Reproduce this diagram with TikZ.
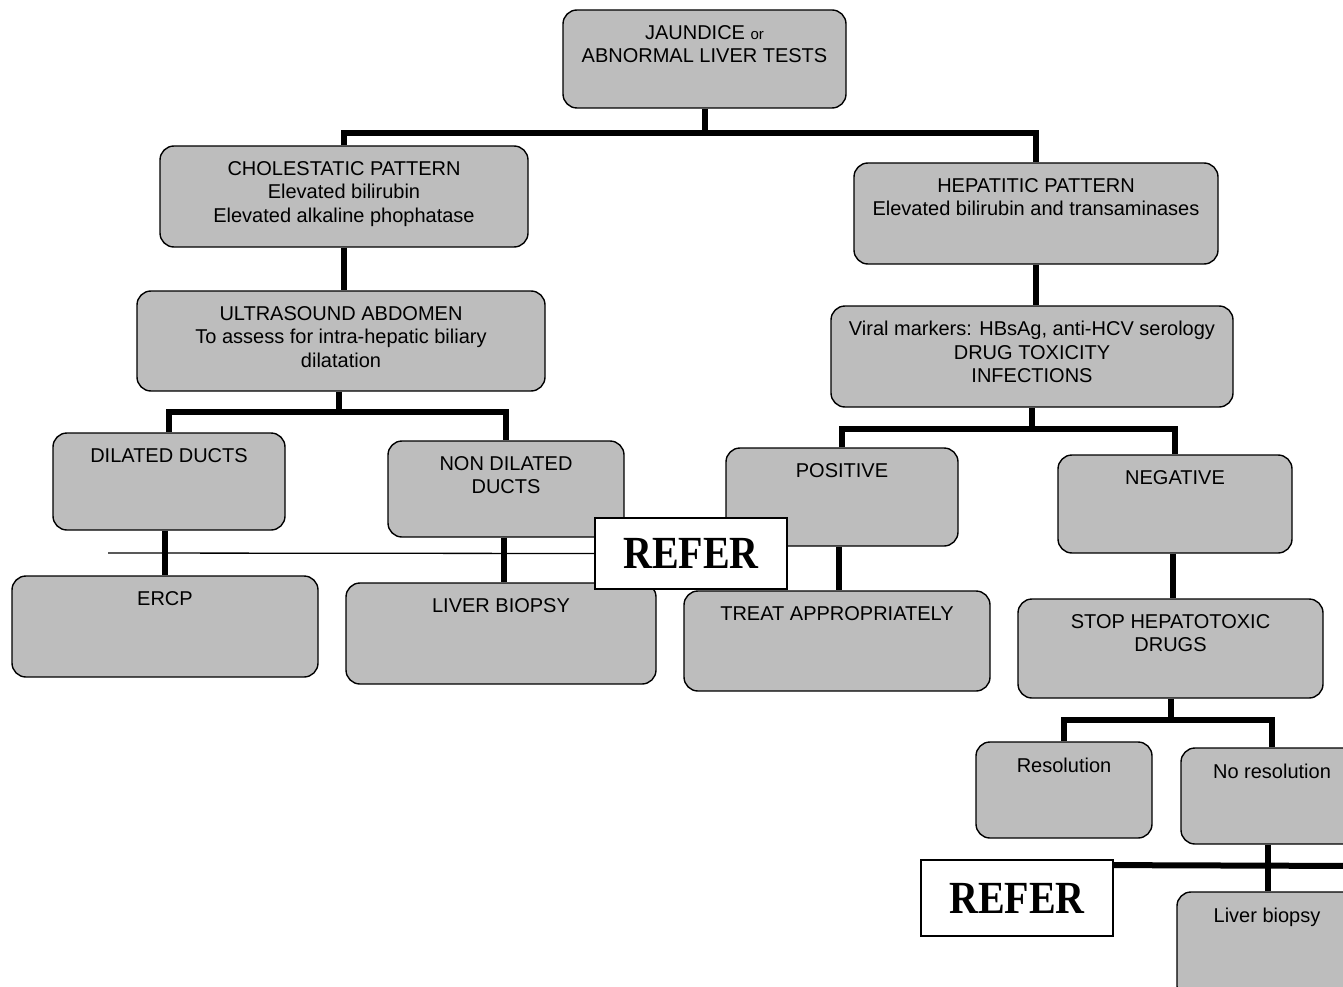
\documentclass[tikz,border=0pt]{standalone}
\usepackage{fontspec}
\setmainfont{Liberation Sans}
\newfontfamily\referfont{Liberation Serif}
\usetikzlibrary{fit}
\definecolor{dotfill}{gray}{0.74}
\tikzset{
  box/.style={draw=black, line width=1.4pt, fill=dotfill, rounded corners=14pt, inner sep=0pt},
  txt/.style={align=center, inner sep=0pt, font=\fontsize{20}{23.5}\selectfont, anchor=north},
  conn/.style={line width=6pt},
  thinline/.style={line width=1.3pt},
  referbox/.style={draw, line width=1.8pt, fill=white, inner sep=0pt,
    font=\referfont\bfseries\fontsize{40}{40}\selectfont},
}
% rounded, shaded box from its corners, with its text near the top
\newcommand\pbox[6]{%
  \coordinate (#1-nw) at (#2,#3);
  \coordinate (#1-se) at (#4,#5);
  \node[box, fit=(#1-nw)(#1-se)] (#1) {};
  \node[txt] (#1-t) at ([yshift=-16pt]#1.north) {#6};
}
\begin{document}
\begin{tikzpicture}[x=1pt, y=-1pt]
\useasboundingbox (0,0) rectangle (1343,987);
\clip (0,0) rectangle (1343,987);

% levels of the horizontal branch bars
\coordinate (bar1) at (0,133);
\coordinate (bar2) at (0,412);
\coordinate (bar3) at (0,429);
\coordinate (bar4) at (0,720);
\coordinate (tstart) at (108,553);
\coordinate (edge) at (1360,866);

% boxes
\pbox{top}{563}{10}{846}{108}{JAUNDICE {\fontsize{15}{15}\selectfont or}\\ABNORMAL LIVER TESTS}
\pbox{chol}{160}{146}{528}{247}{CHOLESTATIC PATTERN\\Elevated bilirubin\\Elevated alkaline phophatase}
\pbox{hep}{854}{163}{1218}{264}{HEPATITIC PATTERN\\Elevated bilirubin and transaminases}
\pbox{us}{137}{291}{545}{391}{ULTRASOUND ABDOMEN\\To assess for intra-hepatic biliary\\dilatation}
\pbox{viral}{831}{306}{1233}{407}{Viral markers: HBsAg, anti-HCV serology\\DRUG TOXICITY\\INFECTIONS}
\pbox{dil}{53}{433}{285}{530}{DILATED DUCTS}
\pbox{nondil}{388}{441}{624}{537}{NON DILATED\\DUCTS}
\pbox{pos}{726}{448}{958}{546}{POSITIVE}
\pbox{neg}{1058}{455}{1292}{553}{NEGATIVE}
\pbox{ercp}{12}{576}{318}{677}{ERCP}
\pbox{lb}{346}{583}{656}{684}{LIVER BIOPSY}
\pbox{treat}{684}{591}{990}{691}{TREAT APPROPRIATELY}
\pbox{stop}{1018}{599}{1323}{698}{STOP HEPATOTOXIC\\DRUGS}
\pbox{res}{976}{742}{1152}{838}{Resolution}
\pbox{nores}{1181}{748}{1363}{844}{No resolution}
\pbox{lb2}{1177}{892}{1357}{1000}{Liver biopsy}

% REFER boxes
\node[referbox, minimum width=192pt, minimum height=71pt] (refer1) at (691,553.5) {\scalebox{1}[1.15]{REFER}};
\node[referbox, minimum width=192pt, minimum height=76pt] (refer2) at (1017,898) {\scalebox{1}[1.15]{REFER}};

% connectors
\draw[conn] (top.south) -- (top.south |- bar1);
\draw[conn] (chol.north) |- (hep.north |- bar1) -- (hep.north);
\draw[conn] (chol.south) -- (us.north -| chol.south);
\draw[conn] (hep.south) -- (viral.north -| hep.south);
\draw[conn] (us.south -| 339,0) -- (339,412);
\draw[conn] (dil.north) |- (nondil.north |- bar2) -- (nondil.north);
\draw[conn] (viral.south) -- (viral.south |- bar3);
\draw[conn] (pos.north) |- (neg.north |- bar3) -- (neg.north);
\draw[conn] (dil.south -| 165,0) -- (ercp.north -| 165,0);
\draw[conn] (nondil.south -| 504,0) -- (lb.north -| 504,0);
\draw[conn] (pos.south -| 839,0) -- (treat.north -| 839,0);
\draw[conn] (neg.south -| 1173,0) -- (stop.north -| 1173,0);
\draw[conn] (stop.south) -- (stop.south |- bar4);
\draw[conn] (res.north) |- (nores.north |- bar4) -- (nores.north);
\draw[conn] (nores.south -| 1268,0) -- (lb2.north -| 1268,0);
\draw[conn] ([yshift=-6pt]refer2.north east) -- (edge);
\draw[thinline] (tstart) -- (refer1.west);
\end{tikzpicture}
\end{document}
